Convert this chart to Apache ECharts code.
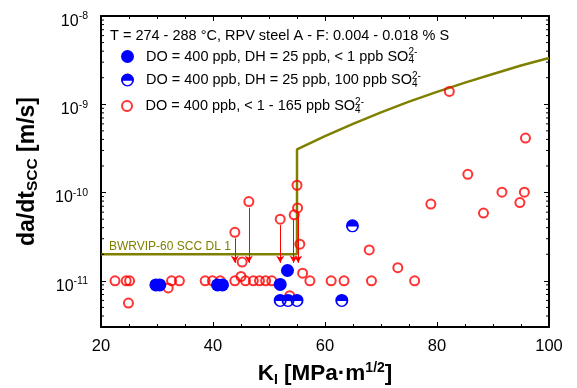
<!DOCTYPE html>
<html><head><meta charset="utf-8">
<script src="https://cdn.jsdelivr.net/npm/echarts@6/dist/echarts.min.js"></script>
<style>html,body{margin:0;padding:0;background:#fff}#c{width:577px;height:388px}</style>
</head><body><div id="c"></div>
<script>
const FONT = "'Liberation Sans', Arial, sans-serif";

// x axis ticks
const xTicks = [20, 40, 60, 80, 100];
// y axis range (log)
const yMin = 3e-12, yMax = 1e-8;

// Series 1: DO = 400 ppb, DH = 25 ppb, < 1 ppb SO4
const s1K    = [29.8, 30.5, 40.8, 41.7, 52.0, 53.3];
const s1Rate = [9.0e-12, 9.0e-12, 9.0e-12, 9.0e-12, 9.1e-12, 1.31e-11];

// Series 2: DO = 400 ppb, DH = 25 ppb, 100 ppb SO4
const s2K    = [52.0, 53.4, 55.0, 63.0, 64.9];
const s2Rate = [6.0e-12, 6.0e-12, 6.0e-12, 6.0e-12, 4.2e-11];

// Series 3: DO = 400 ppb, < 1 - 165 ppb SO4
const s3K = [22.5, 24.5, 25.1, 24.9, 32.0, 32.6, 34.0, 38.6, 39.9, 41.3,
             43.9, 45.0, 45.8, 47.2, 48.3, 49.4, 50.5,
             43.9, 46.4, 45.2, 52.0, 54.5, 55.0, 55.1, 55.5, 56.0, 57.3, 53.7,
             61.1, 63.4, 67.9, 68.3, 73.0, 76.0, 78.9, 82.2, 85.5, 88.3, 91.6, 94.8, 95.6, 95.8];
const s3Rate = [1e-11, 1e-11, 1e-11, 5.6e-12, 8.3e-12, 1e-11, 1e-11, 1e-11, 1e-11, 1e-11,
             1e-11, 1.12e-11, 1e-11, 1e-11, 1e-11, 1e-11, 1e-11,
             3.55e-11, 7.9e-11, 1.63e-11, 5.0e-11, 5.6e-11, 1.21e-10, 6.7e-11, 2.6e-11, 1.22e-11, 1e-11, 6.8e-12,
             1e-11, 1e-11, 2.24e-11, 1e-11, 1.41e-11, 1e-11, 7.4e-11, 1.4e-9, 1.61e-10, 5.86e-11, 1.01e-10, 7.7e-11, 1.01e-10, 4.14e-10];

// Arrows (upper-bound markers)
const arrowK    = [43.9, 46.4, 52.0, 54.4, 55.2];
const arrowFrom = [3.04e-11, 6.73e-11, 4.28e-11, 5.0e-11, 5.97e-11];
const arrowTo   = [1.6e-11, 1.6e-11, 1.6e-11, 1.6e-11, 1.6e-11];

// BWRVIP-60 SCC disposition line 1
const dlK    = [20, 55, 55, 60, 65, 70, 75, 80, 85, 90, 95, 100];
const dlRate = [2e-11, 2e-11, 3.08e-10, 4.36e-10, 6.0e-10, 8.1e-10, 1.07e-9, 1.38e-9, 1.76e-9, 2.2e-9, 2.75e-9, 3.35e-9];

const titleText = 'T = 274 - 288 °C, RPV steel A - F: 0.004 - 0.018 % S';
const legendTexts = {
  s1: '{n|DO = 400 ppb, DH = 25 ppb, < 1 ppb SO}{sb|4}{sp|2-}',
  s2: '{n|DO = 400 ppb, DH = 25 ppb, 100 ppb SO}{sb|4}{sp|2-}',
  s3: '{n|DO = 400 ppb, < 1 - 165 ppb SO}{sb|4}{sp|2-}'
};

// minor log ticks (axis decoration)
const minorY = [];
for (let e = -12; e <= -9; e++) for (let m = 2; m <= 9; m++) {
  const v = m * Math.pow(10, e);
  if (v > yMin * 1.01 && v < yMax) minorY.push(v);
}

const zip = (a, b) => a.map((v, i) => [v, b[i]]);
const halfPath = 'path://M0,-10A10,10,0,1,1,0,10A10,10,0,1,1,0,-10ZM-7,1A7,7,0,0,0,7,1Z';

const legendRich = {
  n: {fontSize: 14.5, fontFamily: FONT, color: '#000', lineHeight: 18},
  sb: {fontSize: 10, fontFamily: FONT, color: '#000', verticalAlign: 'bottom', width: 0, lineHeight: 10},
  sp: {fontSize: 10, fontFamily: FONT, color: '#000', verticalAlign: 'top', lineHeight: 10}
};
function mkLegend(name, top, ih) {
  return {
    data: [name], left: 121, top: top, orient: 'vertical', padding: 0,
    itemWidth: 27, itemHeight: ih, selectedMode: false,
    formatter: n => legendTexts[n],
    textStyle: {fontSize: 14.5, fontFamily: FONT, color: '#000', rich: legendRich}
  };
}

const axisLineStyle = {lineStyle: {color: '#000', width: 2}};
const chart = echarts.init(document.getElementById('c'), null, {renderer: 'canvas'});
chart.setOption({
  animation: false,
  backgroundColor: '#fff',
  textStyle: {fontFamily: FONT},
  title: {text: titleText, left: 110, top: 28, padding: 0,
    textStyle: {fontSize: 14.5, fontWeight: 'normal', color: '#000', fontFamily: FONT}},
  legend: [mkLegend('s1', 47.5, 13), mkLegend('s2', 71, 13), mkLegend('s3', 97, 10)],
  grid: {left: 101, right: 28, top: 16, bottom: 61, outerBoundsMode: 'none', containLabel: false},
  xAxis: [{
    type: 'value', min: 20, max: 100, interval: 20, position: 'bottom',
    axisLine: axisLineStyle,
    axisTick: {inside: true, length: 5, lineStyle: {color: '#000', width: 1}},
    minorTick: {show: true, splitNumber: 4, length: 3, lineStyle: {color: '#000', width: 1}},
    splitLine: {show: false}, minorSplitLine: {show: false},
    axisLabel: {fontSize: 16.5, color: '#000', margin: 11, fontFamily: FONT,
      formatter: v => (xTicks.indexOf(v) >= 0 ? String(v) : '')},
    name: '{b|K}{bs|I}{b| [MPa·m}{bp|1/2}{b|]}', nameLocation: 'middle', nameGap: 34,
    nameTextStyle: {rich: {
      b: {fontSize: 22.5, fontWeight: 'bold', color: '#000', fontFamily: FONT, lineHeight: 26},
      bs: {fontSize: 14, fontWeight: 'bold', color: '#000', fontFamily: FONT, verticalAlign: 'bottom', lineHeight: 14},
      bp: {fontSize: 14, fontWeight: 'bold', color: '#000', fontFamily: FONT, verticalAlign: 'top', lineHeight: 14}
    }}
  }, {
    type: 'value', min: 20, max: 100, interval: 20, position: 'top',
    axisLine: axisLineStyle,
    axisTick: {inside: true, length: 5, lineStyle: {color: '#000', width: 1}},
    minorTick: {show: true, splitNumber: 4, length: 3, lineStyle: {color: '#000', width: 1}},
    splitLine: {show: false}, axisLabel: {show: false}
  }],
  yAxis: [{
    type: 'log', logBase: 10, min: yMin, max: yMax, position: 'left',
    axisLine: axisLineStyle,
    axisTick: {inside: true, length: 5, lineStyle: {color: '#000', width: 1}},
    splitLine: {show: false},
    axisLabel: {margin: 13, color: '#000', fontFamily: FONT, padding: [11, 0, 0, 0],
      formatter: v => {
        const l = Math.log10(v), e = Math.round(l);
        if (Math.abs(l - e) > 1e-6) return '';
        return '{b|10}{s|' + e + '}';
      },
      rich: {
        b: {fontSize: 16, color: '#000', fontFamily: FONT, lineHeight: 21},
        s: {fontSize: 10.5, color: '#000', fontFamily: FONT, verticalAlign: 'top', lineHeight: 12}
      }},
    name: '{b|da/dt}{bs|SCC}{b| [m/s]}', nameLocation: 'middle', nameGap: 60, nameRotate: 90,
    nameTextStyle: {rich: {
      b: {fontSize: 23, fontWeight: 'bold', color: '#000', fontFamily: FONT, lineHeight: 26},
      bs: {fontSize: 15.5, fontWeight: 'bold', color: '#000', fontFamily: FONT, verticalAlign: 'bottom', lineHeight: 15}
    }}
  }, {
    type: 'log', logBase: 10, min: yMin, max: yMax, position: 'right',
    axisLine: axisLineStyle,
    axisTick: {inside: true, length: 5, lineStyle: {color: '#000', width: 1}},
    splitLine: {show: false}, axisLabel: {show: false}
  }],
  series: [
    {
      type: 'custom', silent: true, data: minorY.map(v => [20, v]), z: 10, clip: false,
      renderItem: (params, api) => {
        const v = api.value(1);
        const pL = api.coord([20, v]), pR = api.coord([100, v]);
        return {type: 'group', children: [
          {type: 'line', shape: {x1: pL[0], y1: pL[1], x2: pL[0] + 3, y2: pL[1]}, style: {stroke: '#000', lineWidth: 1}},
          {type: 'line', shape: {x1: pR[0], y1: pR[1], x2: pR[0] - 3, y2: pR[1]}, style: {stroke: '#000', lineWidth: 1}}
        ]};
      }
    },
    {
      name: 'dl', type: 'line', data: zip(dlK, dlRate), symbol: 'none', silent: true,
      lineStyle: {color: '#808000', width: 2.5}, z: 2,
      markPoint: {
        silent: true, symbol: 'circle', symbolSize: 0,
        data: [{coord: [20, 2e-11]}],
        label: {show: true, position: 'right', offset: [3, -8], formatter: 'BWRVIP-60 SCC DL 1',
          color: '#808000', fontSize: 12, fontFamily: FONT}
      }
    },
    {
      name: 's3', type: 'scatter', data: zip(s3K, s3Rate), symbol: 'circle', symbolSize: 9,
      symbolKeepAspect: true, z: 3,
      itemStyle: {color: 'rgba(255,255,255,0)', borderColor: '#ff0000', borderWidth: 2},
      markLine: {
        silent: true, symbol: ['none', 'arrow'], symbolSize: [6, 7],
        lineStyle: {color: '#ff0000', width: 1, type: 'solid'}, label: {show: false},
        data: arrowK.map((k, i) => [{coord: [k, arrowFrom[i]]}, {coord: [k, arrowTo[i]]}])
      }
    },
    {
      name: 's1', type: 'scatter', data: zip(s1K, s1Rate), symbol: 'circle', symbolSize: 13,
      symbolKeepAspect: true, z: 4, itemStyle: {color: '#0000ff', opacity: 1}
    },
    {
      name: 's2', type: 'scatter', data: zip(s2K, s2Rate), symbol: halfPath, symbolSize: 13,
      symbolKeepAspect: true, z: 4, itemStyle: {color: '#0000ff', opacity: 1}
    }
  ]
});
</script></body></html>
